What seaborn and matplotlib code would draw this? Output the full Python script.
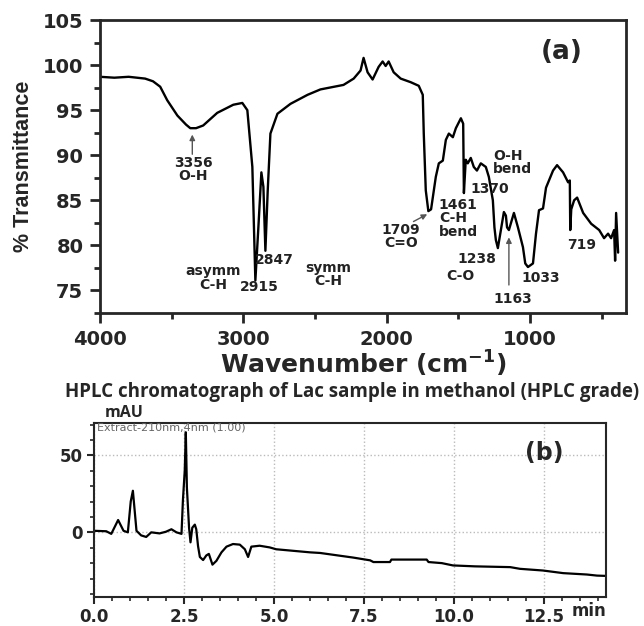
import numpy as np
import pandas as pd
import matplotlib
matplotlib.use("Agg")
import matplotlib.pyplot as plt
from matplotlib.ticker import MultipleLocator, FormatStrFormatter
import seaborn as sns

# FTIR spectrum (wavenumber in cm-1, % transmittance)
wavenumber = [4000, 3900, 3800, 3685, 3630, 3580, 3531, 3460, 3400, 3370, 3330,
              3280, 3182, 3070, 3007, 2972, 2937, 2916, 2895, 2874, 2860, 2846,
              2830, 2811, 2762, 2671, 2552, 2462, 2301, 2230, 2182, 2161, 2133,
              2098, 2056, 2028, 2007, 1986, 1951, 1902, 1832, 1776, 1748, 1741,
              1727, 1709, 1690, 1657, 1636, 1608, 1587, 1566, 1538, 1517, 1482,
              1466, 1461, 1448, 1434, 1413, 1392, 1370, 1343, 1308, 1287, 1259,
              1248, 1238, 1224, 1203, 1182, 1168, 1160, 1147, 1112, 1084, 1049,
              1033, 1014, 979, 958, 937, 909, 888, 839, 811, 769, 734, 722, 719,
              712, 692, 671, 629, 573, 517, 483, 455, 434, 413, 406, 399, 385]
transmittance = [98.7, 98.6, 98.7, 98.5, 98.2, 97.6, 96.1, 94.4, 93.4, 93.0, 93.0,
                 93.3, 94.7, 95.6, 95.8, 95.0, 88.7, 76.1, 82.0, 88.1, 86.5, 79.4,
                 86.0, 92.4, 94.6, 95.7, 96.7, 97.3, 97.8, 98.5, 99.4, 100.8, 99.2,
                 98.4, 99.8, 100.4, 99.9, 100.4, 99.2, 98.5, 98.1, 97.7, 96.7, 92.4,
                 86.1, 83.8, 84.0, 87.6, 89.1, 89.4, 91.7, 92.4, 92.0, 93.0, 94.1,
                 93.5, 85.8, 89.5, 89.1, 89.7, 88.7, 88.3, 89.1, 88.7, 87.6, 85.0,
                 82.0, 80.6, 79.7, 81.7, 83.7, 83.3, 82.0, 81.7, 83.6, 82.0, 79.8,
                 78.0, 77.6, 78.0, 81.3, 83.9, 84.1, 86.4, 88.3, 88.9, 88.1, 87.0,
                 87.2, 81.7, 84.0, 85.0, 85.3, 83.6, 82.4, 81.7, 80.8, 81.3, 80.8,
                 81.7, 78.3, 83.6, 79.2]

# peak labels: (text, wavenumber, transmittance, alignment)
ftir_labels = [
    ("3356\nO-H", 3350, 88.4, "center"),
    ("asymm\nC-H", 3210, 76.4, "center"),
    ("2915", 2885, 75.4, "center"),
    ("2847", 2785, 78.4, "center"),
    ("symm\nC-H", 2406, 76.8, "center"),
    ("1709\nC=O", 1902, 81.0, "center"),
    ("1461\nC-H\nbend", 1636, 83.0, "left"),
    ("1370", 1413, 86.2, "left"),
    ("O-H\nbend", 1259, 89.2, "left"),
    ("1238", 1371, 78.5, "center"),
    ("C-O", 1483, 76.6, "center"),
    ("1163", 1119, 74.1, "center"),
    ("1033", 923, 76.4, "center"),
    ("719", 643, 80.0, "center"),
]

# HPLC chromatogram (time in min, signal in mAU)
hplc_time = [0.0, 0.34, 0.48, 0.67, 0.82, 0.94, 1.02, 1.08, 1.18, 1.31, 1.45,
             1.59, 1.82, 2.0, 2.15, 2.29, 2.43, 2.47, 2.52, 2.55, 2.58, 2.64,
             2.68, 2.73, 2.8, 2.84, 2.89, 2.94, 3.03, 3.12, 3.19, 3.29, 3.4,
             3.54, 3.68, 3.86, 4.05, 4.19, 4.28, 4.37, 4.6, 4.88, 5.06, 5.53,
             6.0, 6.28, 6.74, 7.2, 7.67, 7.76, 8.22, 8.26, 9.24, 9.29, 9.66,
             9.97, 10.58, 11.56, 11.83, 12.47, 13.03, 13.69, 13.97, 14.22]
hplc_mau = [1.0, 0.7, -1.0, 8.0, 1.0, 0.0, 20.0, 27.0, 1.0, -2.0, -3.0,
            0.0, -0.7, 0.4, 2.0, 0.0, -1.0, 21.0, 40.0, 65.0, 29.0, 3.0,
            -6.5, 3.0, 5.0, 2.0, -9.0, -16.0, -18.0, -15.0, -14.0, -21.0, -18.5,
            -13.0, -9.3, -7.6, -8.0, -11.0, -16.0, -9.3, -8.7, -9.8, -11.0, -12.0,
            -13.0, -13.4, -14.9, -16.4, -18.2, -19.3, -19.3, -17.7, -17.7, -19.3, -20.0,
            -21.5, -22.1, -22.6, -23.7, -24.8, -26.5, -27.4, -28.1, -28.3]

sns.set_style("ticks")
plt.rcParams["font.family"] = ["DejaVu Sans"]

W, H = 644, 626
fig = plt.figure(figsize=(W / 100, H / 100), dpi=100)

def box(l, t, r, b):
    return [l / W, 1 - b / H, (r - l) / W, (b - t) / H]

# ---------------- panel (a): FTIR ----------------
ax1 = fig.add_axes(box(100, 20, 626, 313))
ftir = pd.DataFrame({"wn": wavenumber, "T": transmittance})
sns.lineplot(data=ftir, x="wn", y="T", ax=ax1, color="black", lw=1.7, sort=False)
ax1.set_xlim(4000, 330)
ax1.set_ylim(72.5, 105)
ax1.xaxis.set_major_locator(MultipleLocator(1000))
ax1.xaxis.set_minor_locator(MultipleLocator(500))
ax1.yaxis.set_major_locator(MultipleLocator(5))
ax1.yaxis.set_minor_locator(MultipleLocator(2.5))
ax1.tick_params(which="major", direction="out", length=7, width=2, labelsize=14, pad=5)
ax1.tick_params(which="minor", direction="out", length=4, width=2)
for lab in ax1.get_xticklabels() + ax1.get_yticklabels():
    lab.set_fontweight("bold")
for s in ax1.spines.values():
    s.set_linewidth(2)
ax1.set_xlabel("Wavenumber (cm$^{\\mathbf{-1}}$)", fontsize=18, fontweight="bold", labelpad=0)
ax1.set_ylabel("% Transmittance", fontsize=15.5, fontweight="bold",
               family="Liberation Sans", labelpad=6)

for txt, xv, yv, ha in ftir_labels:
    ax1.text(xv, yv, txt, ha=ha, va="center", fontsize=10, fontweight="bold",
             linespacing=0.95, color="#222222")

arrow = dict(arrowstyle="-|>", color="#555555", lw=1, mutation_scale=8)
ax1.annotate("", xy=(3356, 92.6), xytext=(3356, 89.8), arrowprops=arrow)
ax1.annotate("", xy=(1700, 83.6), xytext=(1830, 82.5), arrowprops=arrow)
ax1.annotate("", xy=(1147, 81.2), xytext=(1147, 75.3), arrowprops=arrow)
ax1.text(776, 101.4, "(a)", ha="center", va="center", fontsize=19, fontweight="bold")

# ---------------- panel (b): HPLC ----------------
ax2 = fig.add_axes(box(94, 423, 606, 597))
hplc = pd.DataFrame({"t": hplc_time, "mAU": hplc_mau})
sns.lineplot(data=hplc, x="t", y="mAU", ax=ax2, color="black", lw=1.6)
ax2.set_xlim(0, 14.22)
ax2.set_ylim(-42, 71)
ax2.xaxis.set_major_locator(MultipleLocator(2.5))
ax2.xaxis.set_minor_locator(MultipleLocator(0.5))
ax2.xaxis.set_major_formatter(FormatStrFormatter("%.1f"))
ax2.yaxis.set_major_locator(MultipleLocator(50))
ax2.yaxis.set_minor_locator(MultipleLocator(10))
ax2.grid(which="major", color="#bbbbbb", linestyle=":", lw=1)
ax2.tick_params(which="major", direction="out", length=5, width=1.5, labelsize=12, pad=3)
ax2.tick_params(which="minor", direction="out", length=3, width=1.2)
for lab in ax2.get_xticklabels() + ax2.get_yticklabels():
    lab.set_fontweight("bold")
for s in ax2.spines.values():
    s.set_linewidth(1.5)
ax2.set_xlabel("")
ax2.set_ylabel("")
ax2.text(0.967, -0.078, "min", transform=ax2.transAxes, ha="center", va="center",
         fontsize=12, fontweight="bold")
ax2.text(0.005, 0.975, "Extract-210nm,4nm (1.00)", transform=ax2.transAxes,
         ha="left", va="center", fontsize=8, color="#666666")
ax2.text(0.88, 0.83, "(b)", transform=ax2.transAxes, ha="center", va="center",
         fontsize=17, fontweight="bold")

fig.text(352 / W, 1 - 392 / H, "HPLC chromatograph of Lac sample in methanol (HPLC grade)",
         ha="center", va="center", fontsize=13.5, fontweight="bold", family="Open Sans")
fig.text(124 / W, 1 - 413 / H, "mAU", ha="center", va="center", fontsize=11.5,
         fontweight="bold", family="Open Sans")

fig.savefig("out.png", dpi=100, facecolor="white")
